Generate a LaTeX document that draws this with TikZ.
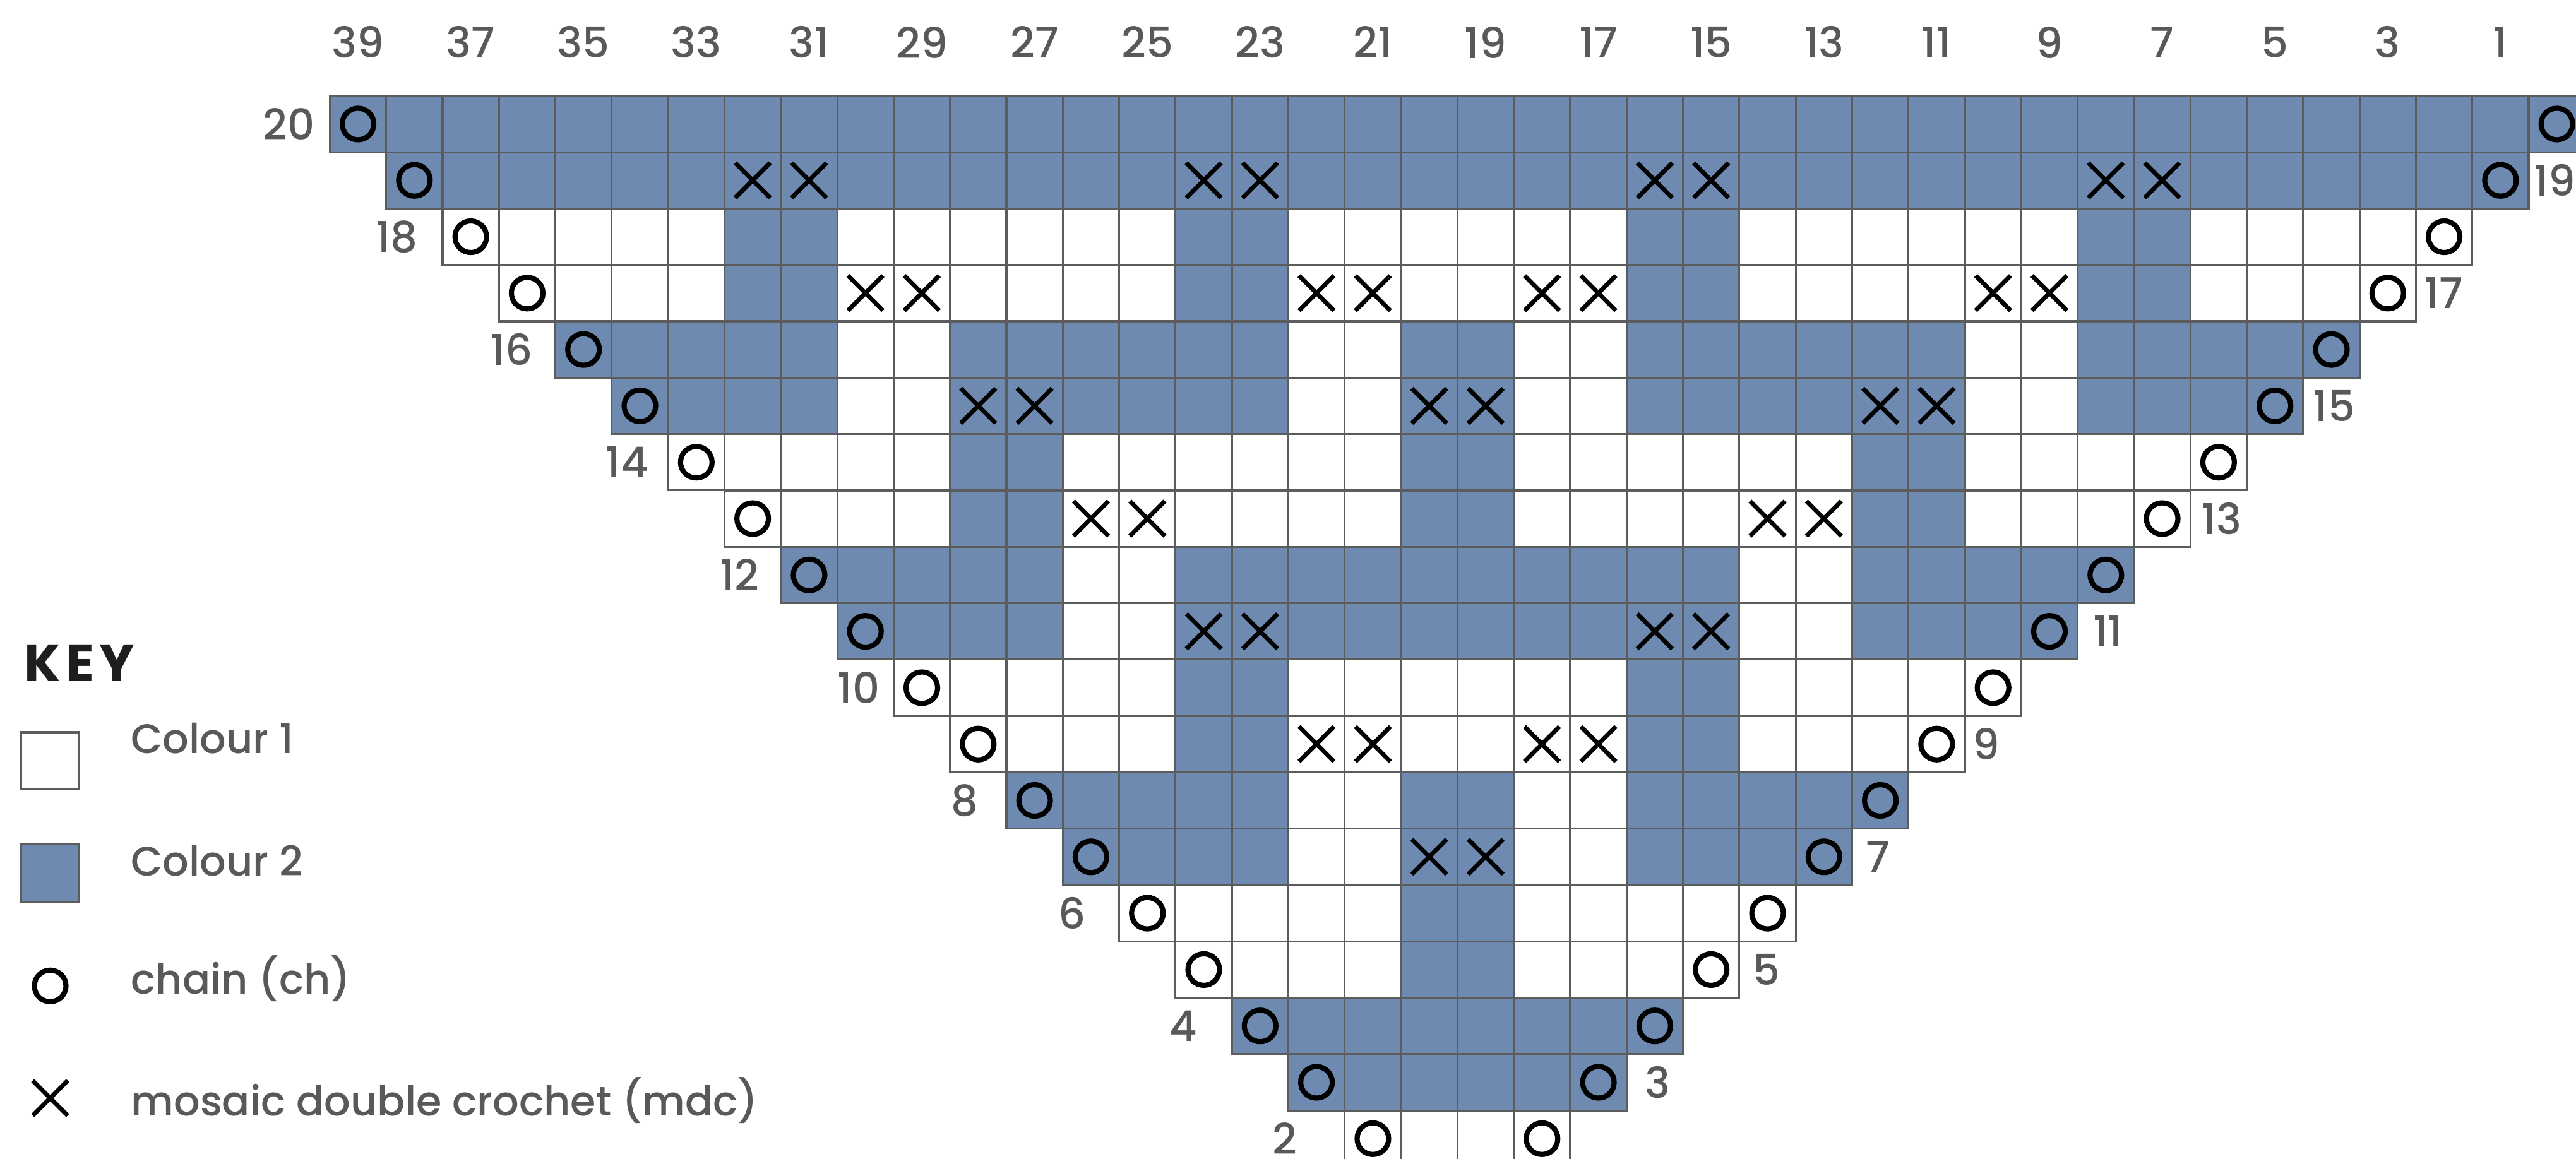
\documentclass[tikz,border=0pt]{standalone}
\usepackage{fontspec}
\setmainfont{Poppins}[UprightFont=* Medium,BoldFont=* Bold]
\usepackage{tikz}
\definecolor{colourtwo}{RGB}{111,138,176}
\definecolor{gridgrey}{RGB}{92,92,92}
\definecolor{textgrey}{RGB}{88,89,91}
\definecolor{keyblack}{RGB}{30,30,30}

\begin{document}
\begin{tikzpicture}[x=0.5cm,y=0.5cm,
  chartcell/.style={draw=gridgrey,line width=0.5pt,step=1},
  mdc/.style={line width=1.1pt,black},
  chain/.style={line width=1.3pt,black},
  rowlab/.style={textgrey,font=\fontsize{10.7}{12}\selectfont,inner sep=0pt},
  keytext/.style={textgrey,font=\fontsize{10.4}{12}\selectfont,anchor=base west,inner sep=0pt}]
  \useasboundingbox (-5.85,1.15) rectangle (39.84,21.70);
  \foreach \r/\spans in {20/{0/39},19/{1/38},18/{7/8,15/16,23/24,31/32},17/{7/8,15/16,23/24,31/32},
      16/{4/8,11/16,19/20,23/28,31/35},15/{5/8,11/16,19/20,23/28,31/34},
      14/{11/12,19/20,27/28},13/{11/12,19/20,27/28},
      12/{8/12,15/24,27/31},11/{9/12,15/24,27/30},
      10/{15/16,23/24},9/{15/16,23/24},
      8/{12/16,19/20,23/27},7/{13/16,19/20,23/26},
      6/{19/20},5/{19/20},4/{16/23},3/{17/22}}
    \foreach \s/\e in \spans \fill[colourtwo] (\s,{\r-1}) rectangle ({\e+1},\r);
  \foreach \r in {2,...,20}
    \draw[chartcell] ({20-\r},{\r-1}) grid ({20+\r},\r) ({20-\r},{\r-1}) rectangle ({20+\r},\r);
  \foreach \r/\ps in {19/{7,8,15,16,23,24,31,32},17/{9,10,17,18,21,22,29,30},
      15/{11,12,19,20,27,28},13/{13,14,25,26},11/{15,16,23,24},9/{17,18,21,22},7/{19,20}}
    \foreach \p in \ps
      \draw[mdc] ({\p+0.19},{\r-0.81}) -- ({\p+0.81},{\r-0.19}) ({\p+0.19},{\r-0.19}) -- ({\p+0.81},{\r-0.81});
  \foreach \r in {2,...,20}
    \draw[chain] ({20.5-\r},{\r-0.5}) circle [radius=0.28] ({19.5+\r},{\r-0.5}) circle [radius=0.28];
  \foreach \c in {1,3,...,39}
    \node[rowlab] (col\c) at ({39.5-\c},20.95) {\c};
  \foreach \r/\d in {20/0.73,18/0.81,16/0.78,14/0.73,12/0.73,10/0.62,8/0.74,6/0.84,4/0.86,2/1.06}
    \node[rowlab] (row\r) at ({20-\r-\d},{\r-0.5}) {\r};
  \foreach \r/\d in {19/0.46,17/0.49,15/0.55,13/0.55,11/0.54,9/0.38,7/0.46,5/0.48,3/0.55}
    \node[rowlab] (row\r) at ({20+\r+\d},{\r-0.5}) {\r};
  \node[keyblack,font=\bfseries\fontsize{13.2}{15}\selectfont\addfontfeatures{LetterSpace=10},anchor=base west,inner sep=0pt] (keytitle) at (-5.43,9.61) {KEY};
  \draw[chartcell,fill=white] (-5.48,7.70) rectangle (-4.46,8.71);
  \draw[chartcell,fill=colourtwo] (-5.48,5.70) rectangle (-4.46,6.72);
  \draw[chain] (-4.96,4.21) circle [radius=0.28];
  \draw[mdc] (-5.27,1.91) -- (-4.65,2.53) (-5.27,2.53) -- (-4.65,1.91);
  \node[keytext] (keyone) at (-3.54,8.33) {Colour 1};
  \node[keytext] (keytwo) at (-3.54,6.16) {Colour 2};
  \node[keytext] (keychain) at (-3.54,4.07) {chain (ch)};
  \node[keytext] (keymdc) at (-3.54,1.91) {mosaic double crochet (mdc)};
\end{tikzpicture}
\end{document}
